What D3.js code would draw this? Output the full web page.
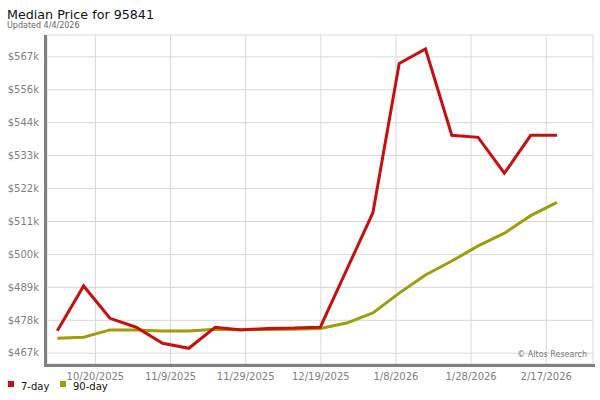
<!DOCTYPE html>
<html>
<head>
<meta charset="utf-8">
<script src="https://cdn.jsdelivr.net/npm/d3@7"></script>
<style>
  html, body { margin: 0; padding: 0; background: #fff; }
  svg { display: block; font-family: "DejaVu Sans", sans-serif; }
</style>
</head>
<body>
<svg id="chart" width="600" height="400"></svg>
<script>
// ---- data ----
const dates = [
  "2025-10-10","2025-10-17","2025-10-24","2025-10-31","2025-11-07",
  "2025-11-14","2025-11-21","2025-11-28","2025-12-05","2025-12-12",
  "2025-12-19","2025-12-26","2026-01-02","2026-01-09","2026-01-16",
  "2026-01-23","2026-01-30","2026-02-06","2026-02-13","2026-02-20"
];
const sevenDay = [474.6, 489.7, 478.8, 475.8, 470.4, 468.7, 475.8, 474.9, 475.4, 475.5,
                  475.8, 495.1, 514.4, 564.7, 569.6, 540.5, 539.8, 527.7, 540.5, 540.5];
const ninetyDay = [472.1, 472.4, 474.9, 474.9, 474.5, 474.5, 475.1, 475.0, 475.0, 475.1,
                   475.4, 477.2, 480.6, 487.3, 493.4, 498.1, 503.2, 507.5, 513.4, 517.9];
const yTickValues = [467.2, 478.3, 489.4, 500.5, 511.6, 522.7, 533.8, 544.9, 556.0, 567.1];
const yTickLabels = ["$467k","$478k","$489k","$500k","$511k","$522k","$533k","$544k","$556k","$567k"];
const xTickDates = ["2025-10-20","2025-11-09","2025-11-29","2025-12-19","2026-01-08","2026-01-28","2026-02-17"];
const xTickLabels = ["10/20/2025","11/9/2025","11/29/2025","12/19/2025","1/8/2026","1/28/2026","2/17/2026"];
const seriesNames = ["7-day", "90-day"];
const seriesColors = ["#c80f0f", "#a09c0a"];

// ---- layout ----
const parse = d3.timeParse("%Y-%m-%d");
const svg = d3.select("#chart");
const L = 47, R = 593, T = 35, B = 364;

const x = d3.scaleTime()
  .domain([new Date(2025, 9, 7, 6), new Date(2026, 2, 1, 14)])
  .range([L, R]);
const y = d3.scaleLinear().domain([463.4, 574.3]).range([B, T]);

// title
svg.append("text").attr("x", 7).attr("y", 19)
  .attr("font-size", 12.7).attr("fill", "#111").text("Median Price for 95841");
svg.append("text").attr("x", 7).attr("y", 28)
  .attr("font-size", 8).attr("fill", "#666").text("Updated 4/4/2026");

// plot frame
svg.append("rect").attr("x", L).attr("y", T).attr("width", R - L).attr("height", B - T)
  .attr("fill", "#fff").attr("stroke", "#d8d8d8").attr("stroke-width", 1);

// grid
const yAxis = d3.axisLeft(y).tickValues(yTickValues)
  .tickSize(-(R - L)).tickFormat((d, i) => yTickLabels[i]);
const gy = svg.append("g").attr("transform", `translate(${L},0)`).call(yAxis);
gy.select(".domain").remove();
gy.selectAll(".tick line").attr("stroke", "#d8d8d8");
gy.selectAll(".tick text").attr("x", -8).attr("font-size", 10)
  .attr("fill", "#808080").attr("font-family", "DejaVu Sans, sans-serif");

const xAxis = d3.axisBottom(x).tickValues(xTickDates.map(parse))
  .tickSize(-(B - T)).tickFormat((d, i) => xTickLabels[i]);
const gx = svg.append("g").attr("transform", `translate(0,${B})`).call(xAxis);
gx.select(".domain").remove();
gx.selectAll(".tick line").attr("stroke", "#d8d8d8");
gx.selectAll(".tick text").attr("y", 9).attr("font-size", 10)
  .attr("fill", "#808080").attr("font-family", "DejaVu Sans, sans-serif");

// axis bars (left and bottom)
svg.append("line").attr("x1", L - 1.5).attr("x2", L - 1.5).attr("y1", T).attr("y2", B + 3)
  .attr("stroke", "#808080").attr("stroke-width", 3);
svg.append("line").attr("x1", L - 3).attr("x2", R + 2).attr("y1", B + 1.5).attr("y2", B + 1.5)
  .attr("stroke", "#808080").attr("stroke-width", 3);

// watermark
svg.append("text").attr("x", 587).attr("y", 357).attr("text-anchor", "end")
  .attr("font-size", 8).attr("fill", "#777").text("© Altos Research");

// lines
const line = d3.line().x(d => x(d[0])).y(d => y(d[1]));
const series = [ninetyDay, sevenDay];
const colors = [seriesColors[1], seriesColors[0]];
series.forEach((vals, k) => {
  svg.append("path")
    .datum(dates.map((d, i) => [parse(d), vals[i]]))
    .attr("fill", "none").attr("stroke", colors[k])
    .attr("stroke-width", 3).attr("stroke-linejoin", "miter")
    .attr("d", line);
});

// legend
const lg = svg.append("g");
const legendX = [8, 60];
seriesNames.forEach((n, i) => {
  lg.append("rect").attr("x", legendX[i]).attr("y", 381).attr("width", 6).attr("height", 6)
    .attr("fill", seriesColors[i]);
  lg.append("text").attr("x", legendX[i] + 13).attr("y", 390)
    .attr("font-size", 10).attr("fill", "#111").text(n);
});
</script>
</body>
</html>
